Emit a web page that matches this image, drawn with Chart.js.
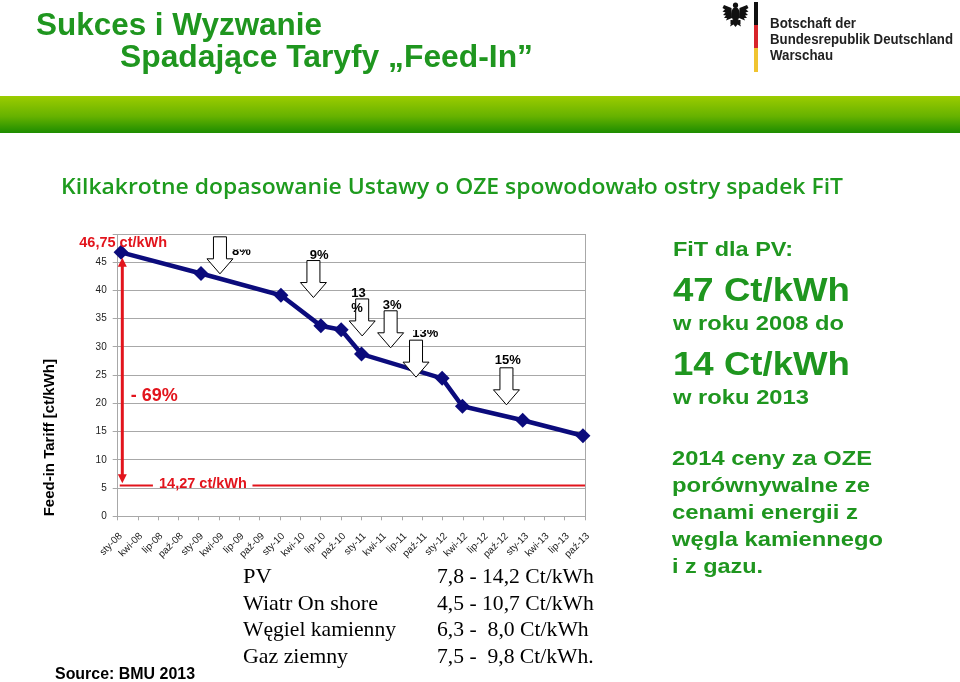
<!DOCTYPE html>
<html><head><meta charset="utf-8">
<script src="https://cdn.jsdelivr.net/npm/chart.js@4.4.1/dist/chart.umd.min.js"></script>
<style>
html,body{margin:0;padding:0;background:#fff;}
body{width:960px;height:682px;position:relative;overflow:hidden;}
#c{position:absolute;left:0;top:0;}
.t{position:absolute;white-space:pre;line-height:1;transform-origin:0 0;display:inline-block;}
.band{position:absolute;left:0;top:96px;width:960px;height:37px;background:linear-gradient(#9ccc00,#66b200 55%,#1c8c00);}
.flag{position:absolute;left:754px;width:4px;}
</style></head><body>
<canvas id="c" width="960" height="682"></canvas>
<div class="band"></div>
<div class="flag" style="top:2px;height:23px;background:#111"></div>
<div class="flag" style="top:25px;height:23px;background:#d8242a"></div>
<div class="flag" style="top:48px;height:24px;background:#f0c430"></div>
<svg style="position:absolute;left:722px;top:2px" width="27" height="26" viewBox="0 0 27 26">
<g fill="#111">
<circle cx="13.5" cy="3.2" r="2.6"/>
<ellipse cx="13.5" cy="12" rx="4.2" ry="7"/>
<polygon points="9.5,6 2,3 0.5,6 3,7.5 0.5,9.5 3.5,10.5 1,13 4,13.5 2,16 5,16 4,18.5 10,16"/>
<polygon points="17.5,6 25,3 26.5,6 24,7.5 26.5,9.5 23.5,10.5 26,13 23,13.5 25,16 22,16 23,18.5 17,16"/>
<polygon points="10.5,17.5 16.5,17.5 19,24.5 15.5,22.5 13.5,25 11.5,22.5 8,24.5"/>
<rect x="8.5" y="18" width="2" height="4"/><rect x="16.5" y="18" width="2" height="4"/>
</g></svg>
<script>
// ---------- data ----------
const quarterLabels = ['sty-08','kwi-08','lip-08','paź-08','sty-09','kwi-09','lip-09','paź-09',
  'sty-10','kwi-10','lip-10','paź-10','sty-11','kwi-11','lip-11','paź-11',
  'sty-12','kwi-12','lip-12','paź-12','sty-13','kwi-13','lip-13','paź-13'];
const pointLabels = ['sty-08','sty-09','sty-10','lip-10','paź-10','sty-11','sty-12','kwi-12','sty-13','paź-13'];
const pointMonth = [0.5, 12.3, 24.1, 30, 33, 36, 47.9, 50.9, 59.8, 68.7];   // months since sty-08
const fitValues = [46.75, 43.01, 39.14, 33.74, 33.03, 28.74, 24.43, 19.5, 17.02, 14.27];
const cutLabels = ['8%', '9%', '13', '%', '3%', '13%', '15%'];
const startLabel = '46,75 ct/kWh';
const endLabel = '14,27 ct/kWh';
const dropLabel = '- 69%';
const sourceNames = ['PV', 'Wiatr On shore', 'Węgiel kamienny', 'Gaz ziemny'];
const sourceRanges = ['7,8 - 14,2 Ct/kWh', '4,5 - 10,7 Ct/kWh', '6,3 -  8,0 Ct/kWh', '7,5 -  9,8 Ct/kWh.'];

// ---------- page text ----------
const FONTS = {
  A: {fam: '"Liberation Sans", Arial, sans-serif', k: 0.4885},
  S: {fam: '"Liberation Serif", "Times New Roman", serif', k: 0.5065},
  O: {fam: '"Open Sans", sans-serif', k: 0.531}
};
const G = '#1f961f';
const texts = [
  {s: 'Sukces i Wyzwanie', x: 36, cy: 24.7, fs: 31.5, w: 286, f: 'A', wt: 700, c: G},
  {s: 'Spadające Taryfy „Feed-In”', x: 120, cy: 56, fs: 31.5, w: 413, f: 'A', wt: 700, c: G},
  {s: 'Botschaft der', x: 770, cy: 23, fs: 14, w: 86, f: 'A', wt: 700, c: '#222'},
  {s: 'Bundesrepublik Deutschland', x: 770, cy: 39, fs: 14, w: 183, f: 'A', wt: 700, c: '#222'},
  {s: 'Warschau', x: 770, cy: 55, fs: 14, w: 63, f: 'A', wt: 700, c: '#222'},
  {s: 'Kilkakrotne dopasowanie Ustawy o OZE spowodowało ostry spadek FiT', x: 60.5, cy: 187, fs: 22.4, w: 782, f: 'O', wt: 600, c: '#1e9b1e'},
  {s: 'FiT dla PV:', x: 672.5, cy: 250, fs: 19.5, w: 120, f: 'A', wt: 700, c: G},
  {s: '47 Ct/kWh', x: 672.5, cy: 289, fs: 33, w: 177, f: 'A', wt: 700, c: G},
  {s: 'w roku 2008 do', x: 672.5, cy: 323, fs: 20, w: 171, f: 'A', wt: 700, c: G},
  {s: '14 Ct/kWh', x: 672.5, cy: 362.8, fs: 33, w: 177, f: 'A', wt: 700, c: G},
  {s: 'w roku 2013', x: 672.5, cy: 396.3, fs: 20, w: 136, f: 'A', wt: 700, c: G},
  {s: '2014 ceny za OZE', x: 672, cy: 457.5, fs: 20, w: 200, f: 'A', wt: 700, c: G},
  {s: 'porównywalne ze', x: 672, cy: 484.5, fs: 20, w: 198, f: 'A', wt: 700, c: G},
  {s: 'cenami energii z', x: 672, cy: 511.5, fs: 20, w: 186, f: 'A', wt: 700, c: G},
  {s: 'węgla kamiennego', x: 672, cy: 538.5, fs: 20, w: 211, f: 'A', wt: 700, c: G},
  {s: 'i z gazu.', x: 672, cy: 565.5, fs: 20, w: 91, f: 'A', wt: 700, c: G},
  {s: 'Source: BMU 2013', x: 55, cy: 674, fs: 16, w: 140, f: 'A', wt: 700, c: '#000'}
];
const rowCy = [576.7, 604, 630, 656.7];
const nameW = [28.7, 135, 153, 105];
const rangeW = [156.7, 156.7, 151.7, 156.7];
sourceNames.forEach((s, i) => texts.push({s, x: 243, cy: rowCy[i], fs: 21, w: nameW[i], f: 'S', wt: 400, c: '#000'}));
sourceRanges.forEach((s, i) => texts.push({s, x: 436.7, cy: rowCy[i], fs: 21, w: rangeW[i], f: 'S', wt: 400, c: '#000'}));

texts.forEach(t => {
  const d = document.createElement('div');
  d.className = 't';
  d.textContent = t.s;
  d.style.left = t.x + 'px';
  d.style.top = (t.cy - FONTS[t.f].k * t.fs) + 'px';
  d.style.fontFamily = FONTS[t.f].fam;
  d.style.fontSize = t.fs + 'px';
  d.style.fontWeight = t.wt;
  d.style.color = t.c;
  document.body.appendChild(d);
  const nw = d.getBoundingClientRect().width;
  if (t.w && nw > 0) d.style.transform = 'scaleX(' + (t.w / nw) + ')';
});

// ---------- chart ----------
const NAVY = '#0b0b7c';
const RED = '#e2141c';
const GRID = '#a8a8a8';
Chart.defaults.font.family = '"Liberation Sans", Arial, sans-serif';

// annotation layout (month index / tariff value)
const cutArrows = [ {m: 15.1, v: 49.5}, {m: 28.9, v: 45.3}, {m: 36.1, v: 38.5}, {m: 40.3, v: 36.4}, {m: 44.05, v: 31.2}, {m: 57.4, v: 26.3} ];
const cutText = [
  {m: 18.27, v: 46.21, align: 'center', clip: 47.27},
  {m: 29.75, v: 45.53, align: 'center'},
  {m: 34.48, v: 38.91, align: 'left'},
  {m: 34.48, v: 36.25, align: 'left'},
  {m: 40.53, v: 36.73, align: 'center'},
  {m: 45.41, v: 31.82, align: 'center', clip: 33.0},
  {m: 57.6, v: 26.98, align: 'center'}
];

const annot = {
  id: 'annot',
  afterDatasetsDraw(chart) {
    const {ctx, scales: {x, y}} = chart;
    const px = m => x.getPixelForValue(m), py = v => y.getPixelForValue(v);
    ctx.save();
    // red reference line
    const ly = py(5.45);
    ctx.strokeStyle = RED; ctx.lineWidth = 2;
    ctx.beginPath();
    ctx.moveTo(px(0.3), ly); ctx.lineTo(px(5.2), ly);
    ctx.moveTo(px(19.9), ly); ctx.lineTo(px(69), ly);
    ctx.stroke();
    // double headed red arrow
    const ax = px(0.68), at = py(45.8), ab = py(5.85);
    ctx.lineWidth = 3;
    ctx.beginPath(); ctx.moveTo(ax, at + 6); ctx.lineTo(ax, ab - 6); ctx.stroke();
    ctx.fillStyle = RED;
    ctx.beginPath(); ctx.moveTo(ax, at); ctx.lineTo(ax - 4.5, at + 9); ctx.lineTo(ax + 4.5, at + 9); ctx.closePath(); ctx.fill();
    ctx.beginPath(); ctx.moveTo(ax, ab); ctx.lineTo(ax - 4.5, ab - 9); ctx.lineTo(ax + 4.5, ab - 9); ctx.closePath(); ctx.fill();
    // red texts
    ctx.textBaseline = 'alphabetic'; ctx.textAlign = 'left';
    ctx.font = 'bold 14.5px "Liberation Sans", Arial, sans-serif';
    ctx.fillText(startLabel, px(-5.67), py(48.65) + 5.2);
    ctx.fillText(endLabel, px(6.1), py(6.0) + 5.2);
    ctx.font = 'bold 18px "Liberation Sans", Arial, sans-serif';
    ctx.fillText(dropLabel, px(1.92), py(21.5) + 6.4);
    // block arrows
    ctx.lineWidth = 1; ctx.strokeStyle = '#000'; ctx.fillStyle = '#fff';
    cutArrows.forEach(a => {
      const cx = px(a.m), t = py(a.v);
      ctx.beginPath();
      ctx.moveTo(cx - 6.5, t); ctx.lineTo(cx + 6.5, t); ctx.lineTo(cx + 6.5, t + 22);
      ctx.lineTo(cx + 13, t + 22); ctx.lineTo(cx, t + 37); ctx.lineTo(cx - 13, t + 22);
      ctx.lineTo(cx - 6.5, t + 22); ctx.closePath();
      ctx.fill(); ctx.stroke();
    });
    // cut percentages
    ctx.fillStyle = '#000';
    ctx.font = 'bold 13px "Liberation Sans", Arial, sans-serif';
    cutText.forEach((c, i) => {
      ctx.save();
      if (c.clip !== undefined) {
        ctx.beginPath(); ctx.rect(px(c.m) - 40, py(c.clip), 80, 40); ctx.clip();
      }
      ctx.textAlign = c.align;
      ctx.fillText(cutLabels[i], px(c.m), py(c.v));
      ctx.restore();
    });
    ctx.restore();
  }
};

new Chart(document.getElementById('c'), {
  type: 'line',
  data: {
    labels: pointLabels,
    datasets: [{
      label: 'Feed-in Tariff',
      data: pointMonth.map((m, i) => ({x: m, y: fitValues[i]})),
      borderColor: NAVY, backgroundColor: NAVY, borderWidth: 4.5,
      pointStyle: 'rectRot', pointRadius: 7.5, pointHoverRadius: 7.5,
      pointBorderWidth: 0, pointBackgroundColor: NAVY, tension: 0, clip: false
    }]
  },
  options: {
    responsive: false, animation: false, devicePixelRatio: 1,
    layout: {padding: {left: 37, top: 234, right: 375, bottom: 105.7}},
    plugins: {legend: {display: false}, tooltip: {enabled: false}},
    scales: {
      x: {
        type: 'linear', min: 0, max: 69,
        afterFit(s) { s.height = 60; },
        ticks: {stepSize: 3, autoSkip: false, minRotation: 45, maxRotation: 45, padding: 10, labelOffset: 3, color: '#222', font: {size: 10},
          callback: v => quarterLabels[Math.round(v / 3)] ?? ''},
        grid: {drawOnChartArea: true, color: c => (c.tick && c.tick.value === 69) ? GRID : 'rgba(0,0,0,0)', tickColor: GRID, tickLength: 4},
        border: {color: GRID}
      },
      y: {
        min: 0, max: 50,
        afterFit(s) { s.width = 80.7; },
        ticks: {stepSize: 5, padding: 6, color: '#222', font: {size: 10}, callback: v => v === 50 ? '' : v},
        grid: {color: GRID, tickLength: 5},
        border: {color: GRID},
        title: {display: true, text: 'Feed-in Tariff [ct/kWh]', align: 'start', color: '#000', font: {size: 15, weight: 'bold'}}
      }
    }
  },
  plugins: [annot]
});
</script>
</body></html>
